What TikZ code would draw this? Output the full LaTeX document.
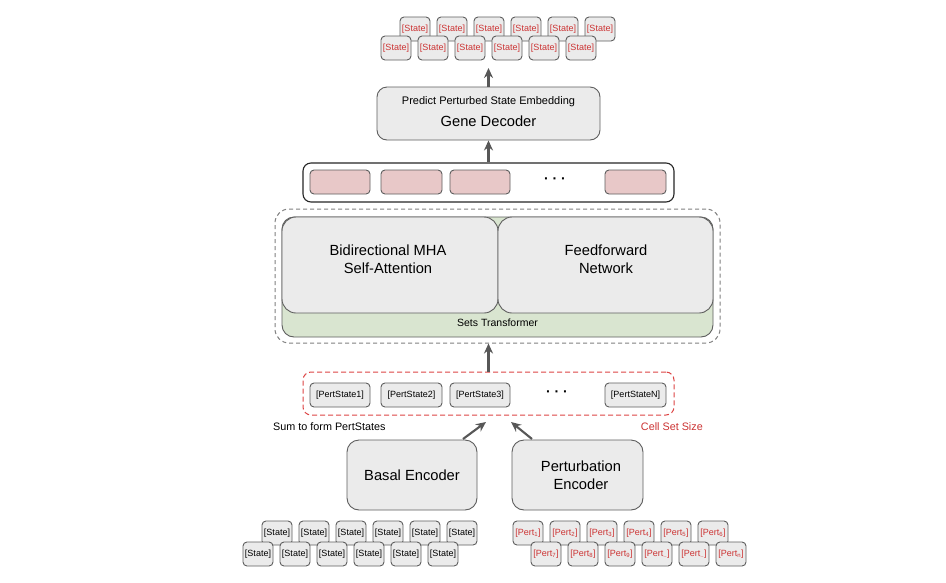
\documentclass[tikz,border=0pt]{standalone}
\usepackage{fontspec}
\setmainfont{Liberation Sans}
\usetikzlibrary{arrows.meta}
\definecolor{boxfill}{HTML}{EBEBEB}
\definecolor{boxline}{HTML}{5E5E5E}
\definecolor{pinkfill}{HTML}{E8C8C8}
\definecolor{greenfill}{HTML}{D9E5D0}
\definecolor{redtext}{HTML}{CC3333}
\definecolor{arrowc}{HTML}{575757}
\definecolor{dashgray}{HTML}{808080}
\definecolor{dashred}{HTML}{DD4444}
\tikzset{
  tok/.style={draw=boxline, fill=boxfill, rounded corners=4pt, line width=0.9pt,
    minimum width=30pt, minimum height=24pt, inner sep=0pt, font=\fontsize{9}{10}\selectfont},
  bigbox/.style={draw=boxline, fill=boxfill, rounded corners=12pt, line width=0.9pt, inner sep=0pt},
  pinkbox/.style={draw=boxline, fill=pinkfill, rounded corners=4pt, line width=0.9pt,
    minimum width=60pt, minimum height=24pt, inner sep=0pt},
  pstok/.style={draw=boxline, fill=boxfill, rounded corners=4pt, line width=0.9pt,
    minimum width=60pt, minimum height=24pt, inner sep=0pt, font=\fontsize{9}{10}\selectfont},
  bigtext/.style={align=center, font=\fontsize{14.7}{18}\selectfont, inner sep=0pt},
  smalltext/.style={font=\fontsize{10.8}{13}\selectfont, inner sep=0pt},
  dots/.style={font=\fontsize{14}{14}\selectfont\bfseries, inner sep=0pt},
  arr/.style={-{Stealth[length=10pt,width=9pt]}, line width=2.1pt, draw=arrowc},
}
\begin{document}
\begin{tikzpicture}[x=1pt,y=-1pt]
\useasboundingbox[fill=white] (0,0) rectangle (946,582);

% top output tokens
\foreach \i in {0,...,5} {
  \node[tok, text=redtext] (to\i) at ({415+37*\i},29) {[State]};
}
\foreach \i in {0,...,5} {
  \node[tok, text=redtext] (tf\i) at ({396+37*\i},48) {[State]};
}

% gene decoder
\node[bigbox, minimum width=223pt, minimum height=53pt, rounded corners=10pt] (dec) at (488.5,113.5) {};
\node[smalltext, font=\fontsize{11}{13}\selectfont] (dect1) at (488.5,102) {Predict Perturbed State Embedding};
\node[bigtext] (dect2) at (488.5,121) {Gene Decoder};
\coordinate (toptip) at (488.5,68);
\draw[arr] (dec.north) -- (toptip);

% embedding row
\node[draw=black!85, fill=white, rounded corners=8pt, line width=1.1pt,
  minimum width=371pt, minimum height=39pt, inner sep=0pt] (emb) at (488.5,182.5) {};
\node[pinkbox] (e1) at (340,182) {};
\node[pinkbox, minimum width=61pt] (e2) at (411.5,182) {};
\node[pinkbox] (e3) at (480,182) {};
\node[dots] (edots) at (555,181) {· · ·};
\node[pinkbox, minimum width=61pt] (e4) at (635.5,182) {};
\draw[arr] (emb.north) -- (dec.south);

% sets transformer
\node[draw=dashgray, dash pattern=on 4pt off 3pt, rounded corners=14pt, line width=1pt,
  minimum width=445pt, minimum height=134pt, inner sep=0pt] (st) at (497.5,276) {};
\node[draw=boxline, fill=greenfill, rounded corners=12pt, line width=0.9pt,
  minimum width=431pt, minimum height=120pt, inner sep=0pt] (green) at (497.5,277) {};
\node[bigbox, rounded corners=14pt, minimum width=216pt, minimum height=96pt] (mha) at (390,265) {};
\node[bigbox, rounded corners=14pt, minimum width=215pt, minimum height=96pt] (ffn) at (605.5,265) {};
\node[bigtext] (mhat) at (388,259) {Bidirectional MHA\\Self-Attention};
\node[bigtext] (ffnt) at (606,259) {Feedforward\\Network};
\node[inner sep=0pt, font=\fontsize{10.5}{12}\selectfont] (stt) at (497.5,323) {Sets Transformer};

% pertstates
\node[draw=dashred, dash pattern=on 5pt off 3pt, rounded corners=8pt, line width=1pt,
  minimum width=371pt, minimum height=43pt, inner sep=0pt] (ps) at (488.5,393.5) {};
\node[pstok] (p1) at (340,395) {[PertState1]};
\node[pstok, minimum width=61pt] (p2) at (411.5,395) {[PertState2]};
\node[pstok] (p3) at (480,395) {[PertState3]};
\node[dots] (pdots) at (557,394) {· · ·};
\node[pstok, minimum width=61pt] (pn) at (635.5,395) {[PertStateN]};
\draw[arr] (ps.north) -- (ps.north |- st.south);

\node[smalltext, anchor=west] (sumt) at (273,427) {Sum to form PertStates};
\node[smalltext, anchor=east, text=redtext] (cellt) at (703,427) {Cell Set Size};

% encoders
\node[bigbox, minimum width=130pt, minimum height=70pt] (basal) at (412,475) {};
\node[bigtext] (basalt) at (412,475) {Basal Encoder};
\node[bigbox, minimum width=131pt, minimum height=70pt] (pert) at (577.5,475) {};
\node[bigtext] (pertt) at (581,475) {Perturbation\\Encoder};

\coordinate (bstart) at (463,439);
\coordinate (btip) at (486,422);
\coordinate (pstart) at (532,439);
\coordinate (ptip) at (511,422);
\draw[arr] (bstart) -- (btip);
\draw[arr] (pstart) -- (ptip);

% bottom state tokens
\foreach \i in {0,...,5} {
  \node[tok] (bo\i) at ({277+37*\i},533) {[State]};
}
\foreach \i in {0,...,5} {
  \node[tok] (bf\i) at ({258+37*\i},554) {[State]};
}

% perturbation tokens
\foreach \i/\s in {0/1,1/2,2/3,3/4,4/5,5/6} {
  \node[tok, text=redtext] (qo\i) at ({528+37*\i},533) {[Pert\textsubscript{\s}]};
}
\foreach \i/\s in {0/7,1/8,2/9,3/..,4/..,5/n} {
  \node[tok, text=redtext] (qf\i) at ({546+37*\i},554) {[Pert\textsubscript{\s}]};
}
\end{tikzpicture}
\end{document}
